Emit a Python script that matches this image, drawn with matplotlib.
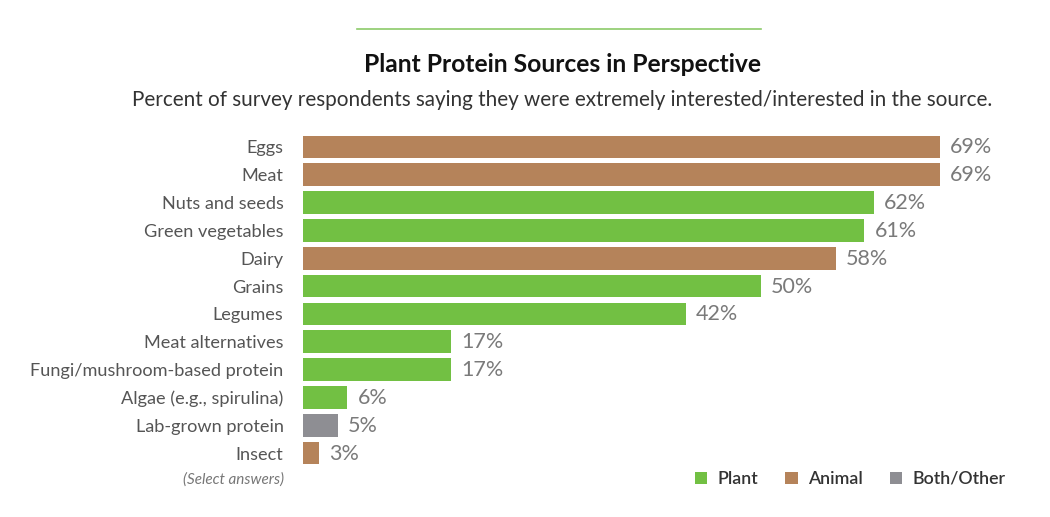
import matplotlib
matplotlib.use("Agg")
import matplotlib.pyplot as plt
from matplotlib.patches import Patch
from matplotlib.lines import Line2D

categories = ["Eggs", "Meat", "Nuts and seeds", "Green vegetables", "Dairy", "Grains",
              "Legumes", "Meat alternatives", "Fungi/mushroom-based protein",
              "Algae (e.g., spirulina)", "Lab-grown protein", "Insect"]
values = [69, 69, 62, 61, 58, 50, 42, 17, 17, 6, 5, 3]
groups = ["Animal", "Animal", "Plant", "Plant", "Animal", "Plant",
          "Plant", "Plant", "Plant", "Plant", "Both/Other", "Animal"]
group_names = ["Plant", "Animal", "Both/Other"]
group_colors = {"Plant": "#72C043", "Animal": "#B5835A", "Both/Other": "#8E8E93"}

plt.rcParams['font.family'] = ['Lato', 'DejaVu Sans']

W, H = 1050, 517
fig = plt.figure(figsize=(W / 100, H / 100), dpi=100)

ax_left, ax_right = 303, 1000
ax_top, ax_bot = 133, 467
ax = fig.add_axes([ax_left / W, 1 - ax_bot / H, (ax_right - ax_left) / W, (ax_bot - ax_top) / H])

px_per_unit = 9.40
x0 = (303 - 291) / px_per_unit
ax.set_xlim(x0, x0 + (ax_right - ax_left) / px_per_unit)
n = len(categories)
ax.set_ylim(n - 0.5, -0.5)

ypos = list(range(n))
ax.barh(ypos, values, height=0.82, color=[group_colors[g] for g in groups], left=0)
for y, v in zip(ypos, values):
    ax.text(v + 10 / px_per_unit, y + 0.02, f"{v}%", va="center", ha="left",
            fontsize=15.5, color="#7a7a7a")

ax.set_yticks(ypos)
ax.set_yticklabels(categories, fontsize=13.1, color="#555555")
ax.tick_params(axis="y", length=0, pad=14)
ax.set_xticks([])
for s in ax.spines.values():
    s.set_visible(False)

# Header
fig.add_artist(Line2D([357 / W, 761 / W], [1 - 29 / H, 1 - 29 / H], color="#8CCB6A", lw=1.2))
fig.text(562 / W, 1 - 64 / H, "Plant Protein Sources in Perspective", ha="center", va="center",
         fontsize=17.7, fontweight="bold", color="#111111")
fig.text(562 / W, 1 - 100 / H,
         "Percent of survey respondents saying they were extremely interested/interested in the source.",
         ha="center", va="center", fontsize=14.9, color="#333333")

fig.text(284 / W, 1 - 480 / H, "(Select answers)", ha="right", va="center", fontsize=11,
         style="italic", color="#777777")

handles = [Patch(facecolor=group_colors[g], edgecolor="none") for g in group_names]
leg = fig.legend(handles, group_names, loc="center right", bbox_to_anchor=(1022 / W, 1 - 479 / H),
                 ncol=3, frameon=False, fontsize=12.8, handlelength=0.7, handleheight=0.7,
                 handletextpad=0.6, columnspacing=1.5)
for t in leg.get_texts():
    t.set_color("#333333")
    t.set_fontweight("semibold")

fig.savefig("out.png", dpi=100, facecolor="white")
